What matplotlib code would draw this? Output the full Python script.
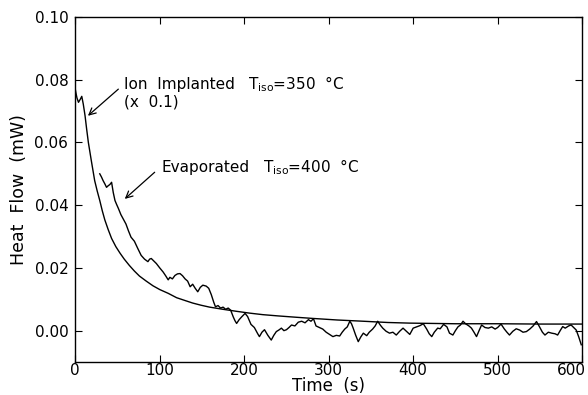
import matplotlib
matplotlib.use("Agg")
import matplotlib.pyplot as plt
from matplotlib.transforms import ScaledTranslation

# Ion implanted (x 0.1), smooth decay
ion_t = [0, 1, 2, 3.8, 6, 7.7, 9.5, 11.6, 13.5, 15.5, 19, 23, 26, 29, 32, 35, 39, 43,
         48, 53, 58, 64, 70, 76, 84, 92, 100, 110, 120, 130, 139, 149, 159, 175, 190,
         206, 222, 240, 260, 281, 310, 341, 370, 396, 450, 500, 550, 600]
ion_v = [0.0770, 0.0755, 0.0742, 0.0728, 0.0738, 0.0747, 0.0722, 0.0685, 0.0642, 0.0600,
         0.0542, 0.0478, 0.0445, 0.0415, 0.0382, 0.0353, 0.0322, 0.0294, 0.0268, 0.0247,
         0.0228, 0.0208, 0.0190, 0.0174, 0.0158, 0.0143, 0.0131, 0.0119, 0.0105, 0.0096,
         0.0088, 0.0081, 0.0075, 0.0068, 0.0062, 0.0056, 0.0051, 0.0047, 0.0043, 0.0039,
         0.0034, 0.0030, 0.0026, 0.0024, 0.0022, 0.0022, 0.0021, 0.0021]

# Evaporated, noisy
evap_t = [29, 31, 33, 35, 37, 39, 41, 43, 45, 47, 49, 51, 54, 57, 60, 63, 66, 70, 74, 78,
          82, 86, 88, 90, 93, 96, 100, 104, 107, 110, 112, 115, 118, 121, 124, 127, 130,
          133, 136, 139, 142, 145, 148, 151, 155, 158, 161, 164, 166, 169, 172, 175, 178,
          181, 184, 187, 189, 191, 194, 197, 201, 204, 208, 212, 216, 218, 221, 224, 228,
          232, 235, 238, 241, 244, 247, 250, 253, 256, 260, 264, 268, 272, 276, 279, 282,
          285, 289, 293, 297, 301, 305, 309, 313, 316, 319, 322, 325, 327, 329, 332, 335,
          338, 341, 345, 348, 352, 355, 358, 361, 364, 368, 372, 376, 380, 384, 388, 392,
          396, 400, 404, 408, 412, 416, 419, 422, 425, 429, 432, 436, 440, 443, 447, 450,
          453, 456, 459, 462, 466, 469, 472, 475, 478, 481, 485, 489, 493, 497, 500, 504,
          508, 511, 514, 518, 522, 526, 530, 534, 538, 542, 546, 549, 553, 556, 560, 564,
          568, 571, 574, 577, 580, 584, 587, 590, 593, 596, 599]
evap_v = [0.0500, 0.0490, 0.0478, 0.0468, 0.0457, 0.0462, 0.0466, 0.0473, 0.0440, 0.0415,
          0.0402, 0.0390, 0.0370, 0.0355, 0.0340, 0.0318, 0.0298, 0.0285, 0.0262, 0.0240,
          0.0228, 0.0220, 0.0228, 0.0230, 0.0222, 0.0214, 0.0200, 0.0187, 0.0175, 0.0162,
          0.0170, 0.0165, 0.0176, 0.0181, 0.0182, 0.0175, 0.0165, 0.0158, 0.0140, 0.0148,
          0.0135, 0.0124, 0.0138, 0.0145, 0.0142, 0.0135, 0.0115, 0.0090, 0.0076, 0.0080,
          0.0072, 0.0075, 0.0068, 0.0072, 0.0065, 0.0044, 0.0032, 0.0023, 0.0035, 0.0044,
          0.0055, 0.0045, 0.0020, 0.0010, -0.0010, -0.0019, -0.0005, 0.0003, -0.0015,
          -0.0030, -0.0015, -0.0003, 0.0002, 0.0008, 0.0000, 0.0003, 0.0010, 0.0018, 0.0015,
          0.0027, 0.0030, 0.0025, 0.0035, 0.0030, 0.0038, 0.0015, 0.0010, 0.0005, -0.0005,
          -0.0012, -0.0019, -0.0015, -0.0017, -0.0005, 0.0005, 0.0012, 0.0030, 0.0022,
          0.0008, -0.0015, -0.0035, -0.0020, -0.0008, -0.0016, -0.0005, 0.0005, 0.0015,
          0.0030, 0.0018, 0.0008, -0.0002, -0.0008, -0.0005, -0.0014, -0.0002, 0.0008,
          -0.0002, -0.0012, 0.0008, 0.0012, 0.0016, 0.0022, 0.0005, -0.0010, -0.0019,
          -0.0005, 0.0008, 0.0006, 0.0020, 0.0012, -0.0008, -0.0014, 0.0000, 0.0012, 0.0018,
          0.0030, 0.0022, 0.0015, 0.0008, -0.0005, -0.0019, 0.0000, 0.0018, 0.0010, 0.0008,
          0.0012, 0.0005, 0.0010, 0.0021, 0.0005, -0.0005, -0.0014, -0.0002, 0.0006, 0.0002,
          -0.0005, -0.0003, 0.0005, 0.0015, 0.0029, 0.0015, -0.0005, -0.0014, -0.0005,
          -0.0008, -0.0010, -0.0014, 0.0000, 0.0013, 0.0008, 0.0015, 0.0018, 0.0010, 0.0002,
          -0.0020, -0.0045]

x_ticks = [0, 100, 200, 300, 400, 500, 600]
y_ticks = [0.00, 0.02, 0.04, 0.06, 0.08, 0.10]
y_ticklabels = ["0.00", "0.02", "0.04", "0.06", "0.08", "0.10"]

plt.rcParams['font.family'] = ['DejaVu Sans']
plt.rcParams['mathtext.fontset'] = 'dejavusans'

fig = plt.figure(figsize=(5.88, 3.95), dpi=100)
ax = fig.add_axes([0.128, 0.0835, 0.862, 0.8735])

ax.plot(ion_t, ion_v, color='black', lw=1.0)
ax.plot(evap_t, evap_v, color='black', lw=1.0)

ax.set_xlim(0, 600)
ax.set_ylim(-0.01, 0.10)
ax.set_xticks(x_ticks)
ax.set_xticklabels([str(t) for t in x_ticks])
ax.set_yticks(y_ticks)
ax.set_yticklabels(y_ticklabels)
ax.tick_params(direction='in', length=5, width=0.8, top=True, right=True,
               labelsize=11)
ax.tick_params(axis='x', pad=1.0)
ax.tick_params(axis='y', pad=5)
for s in ax.spines.values():
    s.set_linewidth(1.0)

# shift the last x tick label left so it stays inside the figure
last = ax.get_xticklabels()[-1]
last.set_transform(last.get_transform() + ScaledTranslation(-11 / 100, 0, fig.dpi_scale_trans))

ax.set_xlabel("Time  (s)", fontsize=12)
ax.xaxis.set_label_coords(0.5, -0.044)
ax.set_ylabel("Heat  Flow  (mW)", fontsize=12.5, labelpad=5)

fs = 11
ax.text(58, 0.0786, "Ion  Implanted", fontsize=fs, va='center', ha='left')
ax.text(58, 0.0729, "(x  0.1)", fontsize=fs, va='center', ha='left')
ax.text(204, 0.0786, r"T$_{\rm iso}$=350  °C", fontsize=fs, va='center', ha='left')
ax.text(102, 0.0520, "Evaporated", fontsize=fs, va='center', ha='left')
ax.text(222, 0.0520, r"T$_{\rm iso}$=400  °C", fontsize=fs, va='center', ha='left')

ax.annotate("", xy=(15, 0.0685), xytext=(51, 0.0770),
            arrowprops=dict(arrowstyle='->', color='black', lw=0.9,
                            mutation_scale=12, shrinkA=0, shrinkB=0))
ax.annotate("", xy=(58.6, 0.0420), xytext=(94, 0.0505),
            arrowprops=dict(arrowstyle='->', color='black', lw=0.9,
                            mutation_scale=12, shrinkA=0, shrinkB=0))

fig.savefig("out.png", dpi=100)
